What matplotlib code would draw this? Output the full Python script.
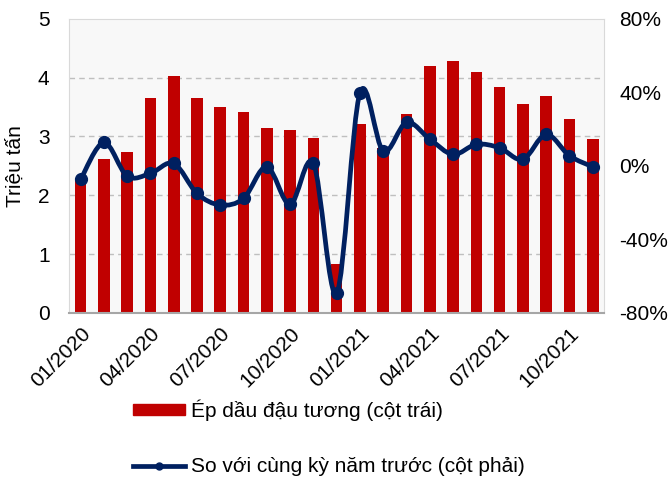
import numpy as np
import matplotlib
matplotlib.use("Agg")
import matplotlib.pyplot as plt
from matplotlib.path import Path
from matplotlib.patches import PathPatch
from matplotlib.lines import Line2D
from matplotlib.patches import Patch

plt.rcParams['font.family'] = ['Liberation Sans', 'DejaVu Sans']

# donnees
thang = ["01/2020", "02/2020", "03/2020", "04/2020", "05/2020", "06/2020",
         "07/2020", "08/2020", "09/2020", "10/2020", "11/2020", "12/2020",
         "01/2021", "02/2021", "03/2021", "04/2021", "05/2021", "06/2021",
         "07/2021", "08/2021", "09/2021", "10/2021", "11/2021"]
ep_dau = [2.25, 2.61, 2.73, 3.66, 4.03, 3.65, 3.50, 3.42, 3.14, 3.11, 2.97, 0.83,
          3.21, 2.80, 3.38, 4.20, 4.29, 4.09, 3.84, 3.55, 3.68, 3.29, 2.96]
yoy = [-7.4, 12.7, -5.6, -4.1, 1.3, -15.0, -21.3, -17.7, -0.5, -21.0, 1.3, -69.3,
       39.7, 8.0, 23.6, 14.5, 6.2, 11.7, 9.8, 3.5, 17.1, 5.5, -0.5]
nhan_bar = "Ép dầu đậu tương (cột trái)"
nhan_line = "So với cùng kỳ năm trước (cột phải)"

do = "#C00000"
xanh = "#002060"
fs = 15

x = np.arange(len(thang))

fig = plt.figure(figsize=(6.7, 4.8), dpi=100)
ax = fig.add_axes([0.103, 0.348, 0.799, 0.613])
ax.set_facecolor("#f8f8f8")
ax.bar(x, ep_dau, width=0.5, color=do, zorder=2)
ax.set_xlim(-0.5, len(thang) - 0.5)
ax.set_ylim(0, 5)
ax.set_yticks(range(6))
for v in range(1, 5):
    ax.axhline(v, color="#bfbfbf", lw=1, ls=(0, (4, 3)), zorder=1)
ax.set_ylabel("Triệu tấn", fontsize=fs, labelpad=8)
ax.set_xticks(x[::3])
ax.set_xticklabels(thang[::3], rotation=45, ha="right", rotation_mode="anchor",
                   fontsize=fs)
ax.tick_params(axis="both", length=0, labelsize=fs)
ax.tick_params(axis="y", pad=14)
ax.tick_params(axis="x", pad=8)
ax.yaxis.set_label_coords(-0.082, 0.5)
for s in ["top", "left", "right"]:
    ax.spines[s].set_color("#d9d9d9")
ax.spines["bottom"].set_color("#a6a6a6")
ax.spines["bottom"].set_linewidth(1.5)

# axe de droite
ax2 = ax.twinx()
ax2.set_ylim(-80, 80)
ax2.set_yticks([-80, -40, 0, 40, 80])
ax2.set_yticklabels(["-80%", "-40%", "0%", "40%", "80%"])
ax2.tick_params(axis="y", length=0, labelsize=fs, pad=11)
for s in ax2.spines.values():
    s.set_visible(False)

# ligne lissee (bezier type Excel)
px = np.array(x, dtype=float)
py = np.array(yoy, dtype=float)
verts = [(px[0], py[0])]
codes = [Path.MOVETO]
n = len(px)
for i in range(n - 1):
    i0 = max(i - 1, 0)
    i3 = min(i + 2, n - 1)
    c1 = (px[i] + (px[i + 1] - px[i0]) / 6., py[i] + (py[i + 1] - py[i0]) / 6.)
    c2 = (px[i + 1] - (px[i3] - px[i]) / 6., py[i + 1] - (py[i3] - py[i]) / 6.)
    verts += [c1, c2, (px[i + 1], py[i + 1])]
    codes += [Path.CURVE4] * 3
ax2.add_patch(PathPatch(Path(verts, codes), fc="none", ec=xanh, lw=3.4,
                        capstyle="round", joinstyle="round", zorder=3))
ax2.plot(x, yoy, ls="none", marker="o", ms=8.5, color=xanh, zorder=4)

# legende
h1 = Patch(color=do)
h2 = Line2D([], [], color=xanh, lw=3.4, marker="o", ms=5)
fig.legend([h1, h2], [nhan_bar, nhan_line], loc="upper left",
           bbox_to_anchor=(0.199, 0.168), bbox_transform=fig.transFigure,
           frameon=False, fontsize=fs, handlelength=2.5, handleheight=0.5,
           handletextpad=0.25, labelspacing=1.75, borderpad=0, borderaxespad=0)

plt.savefig("out.png", dpi=100)
